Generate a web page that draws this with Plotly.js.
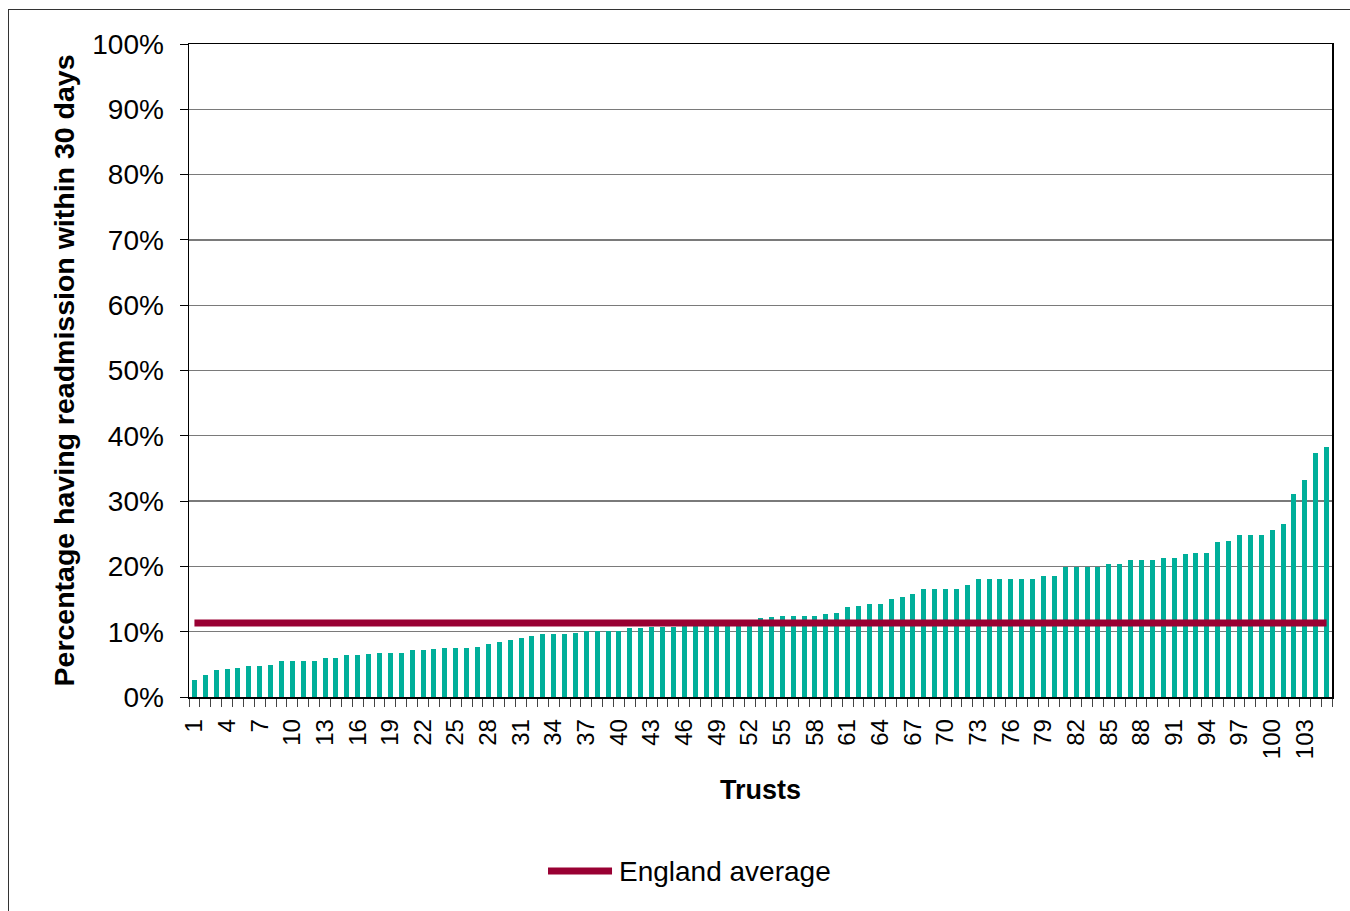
<!DOCTYPE html>
<html>
<head>
<meta charset="utf-8">
<script src="https://cdn.plot.ly/plotly-3.0.1.min.js"></script>
<style>
html,body{margin:0;padding:0;background:#fff;}
#wrap{position:relative;width:1350px;height:911px;overflow:hidden;}
#chart{width:1350px;height:911px;}
#frame{position:absolute;left:8px;top:9px;width:1400px;height:1000px;border:1px solid #333;pointer-events:none;}
</style>
</head>
<body>
<div id="wrap"><div id="chart"></div><div id="frame"></div></div>
<script>
// Trust numbers (1..105)
const trusts = [];
for (let i = 1; i <= 105; i++) trusts.push(i);

// Percentage having readmission within 30 days
const readmissionPct = [
  2.56, 3.44, 4.15, 4.31, 4.51, 4.72, 4.72, 4.97, 5.44, 5.59,
  5.59, 5.59, 5.90, 5.90, 6.41, 6.41, 6.51, 6.67, 6.67, 6.67,
  7.13, 7.13, 7.28, 7.44, 7.44, 7.44, 7.69, 8.05, 8.36, 8.67,
  9.08, 9.28, 9.59, 9.59, 9.59, 9.79, 10.10, 10.10, 10.10, 10.10,
  10.51, 10.51, 10.67, 10.67, 10.67, 10.90, 11.00, 11.00, 11.10, 11.10,
  11.20, 11.30, 12.15, 12.30, 12.41, 12.41, 12.41, 12.41, 12.77, 12.87,
  13.74, 13.90, 14.26, 14.26, 14.97, 15.28, 15.74, 16.56, 16.56, 16.56,
  16.56, 17.18, 18.10, 18.10, 18.10, 18.10, 18.10, 18.10, 18.50, 18.50,
  19.92, 19.92, 19.92, 19.92, 20.41, 20.41, 20.92, 20.92, 20.92, 21.28,
  21.28, 21.84, 22.09, 22.09, 23.67, 23.83, 24.85, 24.85, 24.85, 25.50,
  26.48, 31.12, 33.16, 37.35, 38.32
];

// England average (%)
const englandAverage = 11.33;
const averageLabel = "England average";

const FONT = "Liberation Sans, Arial, sans-serif";

const barTrace = {
  type: "bar",
  x: trusts,
  y: readmissionPct,
  width: 0.46,
  marker: { color: "#00AF9A", line: { width: 0 } },
  showlegend: false,
  hoverinfo: "x+y"
};

const avgTrace = {
  type: "scatter",
  mode: "lines",
  name: averageLabel,
  x: [trusts[0], trusts[trusts.length - 1]],
  y: [englandAverage, englandAverage],
  line: { color: "#990033", width: 7 },
  showlegend: false
};

const layout = {
  width: 1350,
  height: 911,
  margin: { l: 189, r: 18, t: 44, b: 214, pad: 0 },
  paper_bgcolor: "#ffffff",
  plot_bgcolor: "#ffffff",
  font: { family: FONT, color: "#000" },
  bargap: 0,
  xaxis: {
    type: "linear",
    range: [0.5, 105.5],
    tickmode: "linear",
    tick0: 1,
    dtick: 3,
    tickangle: -90,
    tickfont: { size: 24, family: FONT, color: "#000" },
    ticks: "outside",
    ticklen: 8,
    tickcolor: "rgba(0,0,0,0)",
    ticklabelstandoff: 3,
    minor: { tick0: 0.5, dtick: 1, ticks: "outside", ticklen: 8, tickwidth: 1, tickcolor: "#444", showgrid: false },
    showline: true,
    linecolor: "#000",
    linewidth: 1.5,
    mirror: true,
    showgrid: false,
    zeroline: false,
    fixedrange: true,
    automargin: false,
    title: { text: "Trusts", font: { size: 27, family: FONT, weight: "bold", color: "#000" }, standoff: 22 }
  },
  yaxis: {
    range: [0, 100],
    tickmode: "linear",
    tick0: 0,
    dtick: 10,
    ticksuffix: "%",
    tickfont: { size: 28, family: FONT, color: "#000" },
    ticks: "outside",
    ticklen: 8,
    tickcolor: "#000",
    ticklabelstandoff: 10,
    showline: true,
    linecolor: "#000",
    linewidth: 1.5,
    mirror: true,
    showgrid: true,
    gridcolor: "#7a7a7a",
    gridwidth: 1.3,
    zeroline: false,
    fixedrange: true,
    automargin: false,
    title: { text: "Percentage having readmission within 30 days", font: { size: 28.5, family: FONT, weight: "bold", color: "#000" }, standoff: 9 }
  },
  shapes: [
    { type: "line", xref: "paper", yref: "paper", x0: 0.3141, x1: 0.3701, y0: -0.2665, y1: -0.2665,
      line: { color: "#990033", width: 7 } }
  ],
  annotations: [
    { xref: "paper", yref: "paper", x: 0.3745, y: -0.2665, xanchor: "left", yanchor: "middle",
      text: averageLabel, showarrow: false, font: { size: 28, family: FONT, color: "#000" } }
  ]
};

Plotly.newPlot("chart", [barTrace, avgTrace], layout, { displayModeBar: false, staticPlot: true });
</script>
</body>
</html>
